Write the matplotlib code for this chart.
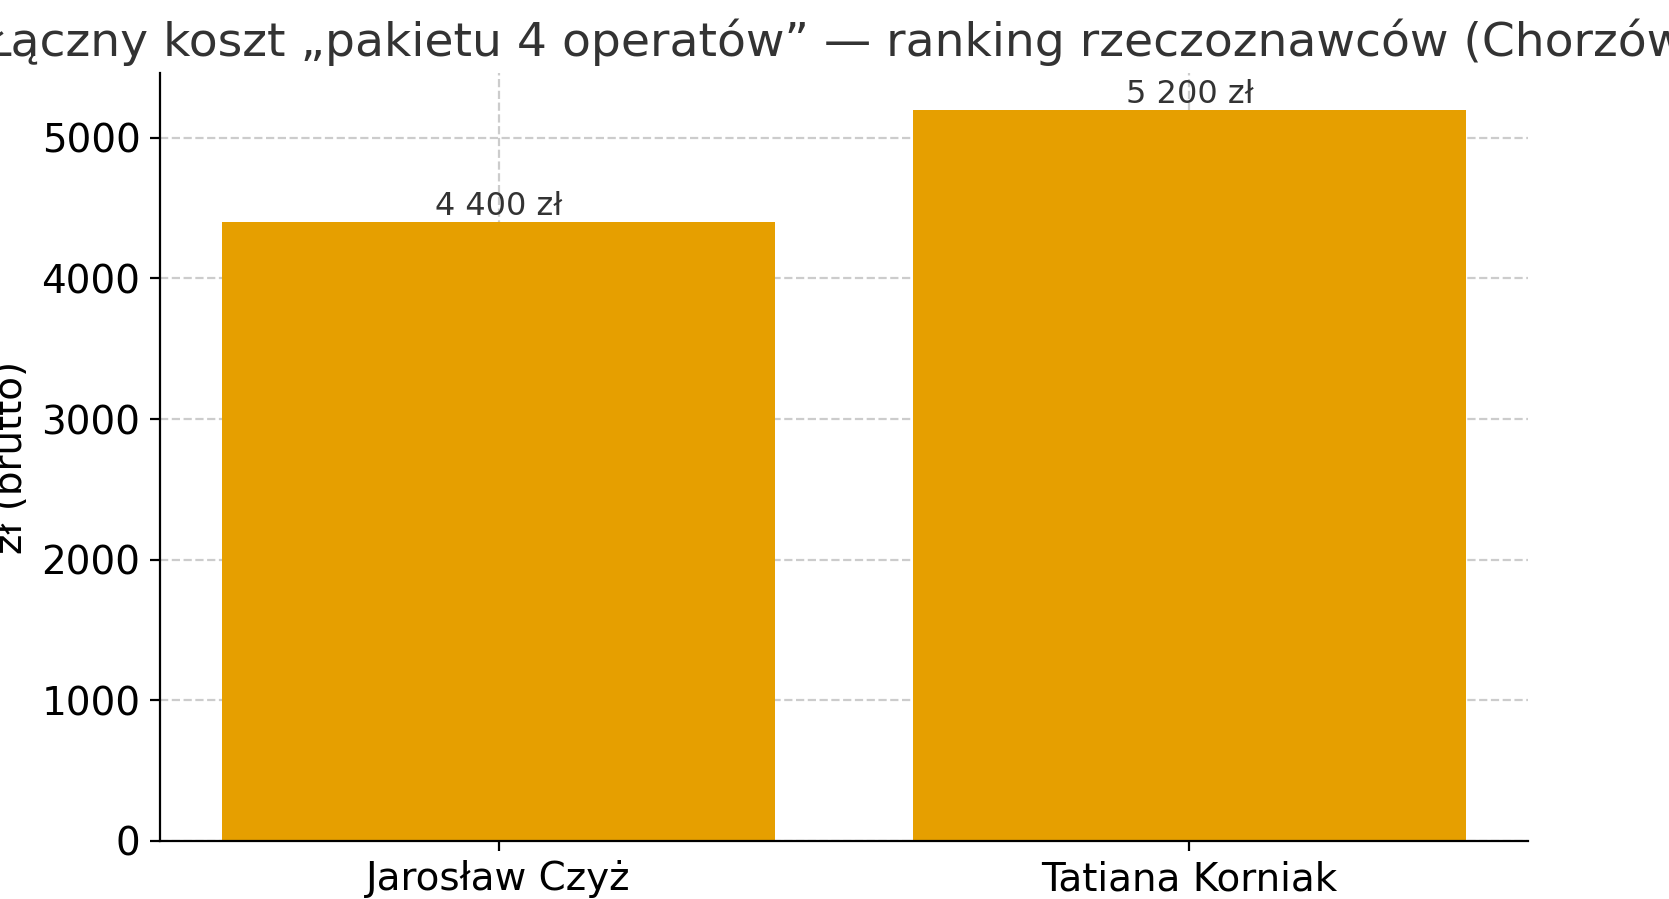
import matplotlib
matplotlib.use("Agg")
import matplotlib.pyplot as plt

names = ["Jarosław Czyż", "Tatiana Korniak"]
totals = [4400, 5200]
bar_labels = ["4 400 zł", "5 200 zł"]

W, H = 1669, 899
fig = plt.figure(figsize=(W / 200, H / 200), dpi=200)
ax = fig.add_axes([160 / W, 1 - 841 / H, (1528 - 160) / W, (841 - 73) / H])

bars = ax.bar(names, totals, color="#E69F00", width=0.8)
for b, lab in zip(bars, bar_labels):
    ax.text(b.get_x() + b.get_width() / 2, b.get_height(), lab,
            ha="center", va="bottom", fontsize=11.5, color="#333333")

ax.set_title("Łączny koszt „pakietu 4 operatów” — ranking rzeczoznawców (Chorzów)",
             fontsize=17, color="#333333")
ax.set_ylabel("zł (brutto)", fontsize=14)
ax.tick_params(labelsize=14)
ax.grid(True, linestyle="--", color="#cccccc", linewidth=0.8)
ax.set_axisbelow(True)
ax.spines["top"].set_visible(False)
ax.spines["right"].set_visible(False)
ax.set_ylim(0, 5460)

fig.savefig("out.png", dpi=200)
